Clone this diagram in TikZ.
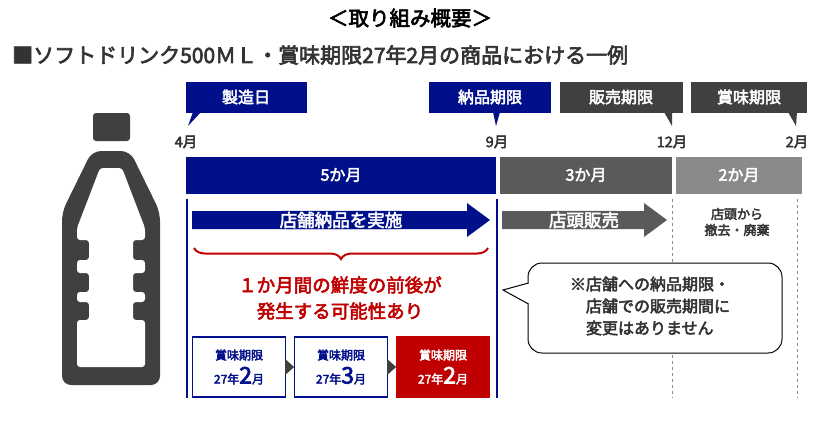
\documentclass[tikz,border=0pt]{standalone}
\usepackage{fontspec}
\setmainfont{Noto Sans CJK JP}[BoldFont={Noto Sans CJK JP},BoldFeatures={FakeBold=3}]
\usetikzlibrary{decorations.pathreplacing}
\definecolor{navy}{HTML}{000F8A}
\definecolor{dgray}{HTML}{404040}
\definecolor{mgray}{HTML}{5A5A5A}
\definecolor{lgray}{HTML}{8A8A8A}
\definecolor{bred}{HTML}{C00000}
\definecolor{txt}{HTML}{333333}
\tikzset{
  lab/.style={font=\bfseries\fontsize{16}{18}\selectfont, text=white, inner sep=0},
  arrlab/.style={font=\bfseries\fontsize{17.5}{19}\selectfont, text=white, inner sep=1pt, rounded corners=3pt},
  month/.style={font=\bfseries\fontsize{14.5}{16}\selectfont, text=txt, inner sep=0},
  smallbox/.style={draw=navy, line width=1.3pt, fill=white, minimum width=93pt, minimum height=60pt, inner sep=0, align=center, text=navy, font=\bfseries\fontsize{12}{24}\selectfont},
  dashln/.style={lgray, dashed, line width=1pt},
  solidln/.style={navy, line width=1.6pt},
}
\begin{document}
\begin{tikzpicture}[x=1pt,y=-1pt]
\useasboundingbox (0,0) rectangle (820,424);
\fill[white] (0,0) rectangle (820,424);
% titles
\node[font=\bfseries\fontsize{20.5}{22}\selectfont, text=black] (title) at (410,18) {＜取り組み概要＞};
\node[anchor=west, font=\bfseries\fontsize{21}{23}\selectfont, text=txt, inner sep=0] (sub) at (12,55) {■ソフトドリンク500ＭＬ・賞味期限27年2月の商品における一例};
% bottle
\fill[dgray, rounded corners=9pt] (92,151) -- (130,151) -- (160,212) -- (160,385) -- (62,385) -- (62,212) -- cycle;
\fill[white, rounded corners=3pt] (100,168) -- (122,168) -- (145,228) -- (145,240) -- (133,240) -- (133,260) -- (145,260) -- (145,273) -- (133,273) -- (133,292) -- (145,292) -- (145,302) -- (133,302) -- (133,320) -- (145,320) -- (145,367) -- (77,367) -- (77,320) -- (89,320) -- (89,302) -- (77,302) -- (77,292) -- (89,292) -- (89,273) -- (77,273) -- (77,260) -- (89,260) -- (89,240) -- (77,240) -- (77,228) -- cycle;
\fill[dgray, rounded corners=3pt] (93,113) rectangle (130,141);
% callout labels
\fill[navy] (186,82) rectangle (307,113);
\fill[navy] (193,112) -- (188,126) -- (201,112) -- cycle;
\node[lab] (mfg) at (246,97) {製造日};
\fill[navy] (429,82) rectangle (551,113);
\fill[navy] (493,112) -- (496,126) -- (500,112) -- cycle;
\node[lab] (dlv) at (490,97) {納品期限};
\fill[dgray] (560,82) rectangle (683,113);
\fill[dgray] (664,112) -- (672,126) -- (672,112) -- cycle;
\node[lab] (sell) at (621,97) {販売期限};
\fill[dgray] (691,82) rectangle (807,113);
\fill[dgray] (788,112) -- (796,126) -- (797,112) -- cycle;
\node[lab] (best) at (749,97) {賞味期限};
% months
\node[month] (m4) at (186,142) {4月};
\node[month] (m9) at (497,142) {9月};
\node[month] (m12) at (672,142) {12月};
\node[month] (m2) at (797,142) {2月};
% bars
\fill[navy] (186,157) rectangle (496,194);
\fill[mgray] (500,157) rectangle (672,194);
\fill[lgray] (676,157) rectangle (802,194);
\node[lab] (b5) at (341,175) {5か月};
\node[lab] (b3) at (586,175) {3か月};
\node[lab] (b2) at (739,175) {2か月};
% guide lines
\draw[solidln] (187,199) -- (187,398);
\draw[solidln] (497,199) -- (497,398);
\draw[dashln] (672,199) -- (672,398);
\draw[dashln] (797,199) -- (797,398);
% arrows
\fill[navy] (192,211) -- (467,211) -- (467,203) -- (490,220) -- (467,237) -- (467,229) -- (192,229) -- cycle;
\node[arrlab, fill=navy] (a1) at (341,220) {店舗納品を実施};
\fill[mgray] (502,211) -- (644,211) -- (644,203) -- (667,220) -- (644,237) -- (644,229) -- (502,229) -- cycle;
\node[arrlab, fill=mgray] (a2) at (584,220) {店頭販売};
\node[font=\bfseries\fontsize{13}{16}\selectfont, text=txt, align=center] (rm) at (737,222) {店頭から\\撤去・廃棄};
% brace
\draw[bred, line width=2pt, decorate, decoration={brace, mirror, amplitude=11pt}] (194,248) -- (488,248);
\node[font=\bfseries\fontsize{18.5}{26}\selectfont, text=bred, align=center] (warn) at (340,298) {１か月間の鮮度の前後が\\発生する可能性あり};
% small boxes
\node[smallbox] (s1) at (239,367) {賞味期限\\27年{\fontsize{23}{14}\selectfont 2}月};
\node[smallbox] (s2) at (341,367) {賞味期限\\27年{\fontsize{23}{14}\selectfont 3}月};
\node[smallbox, fill=bred, draw=bred, text=white] (s3) at (443,367) {賞味期限\\27年{\fontsize{23}{14}\selectfont 2}月};
\fill[dgray] (s1.east) ++(-1,-8) -- ++(9,8) -- ++(-9,8) -- cycle;
\fill[dgray] (s2.east) ++(-1,-8) -- ++(9,8) -- ++(-9,8) -- cycle;
% speech callout
\draw[fill=white, line width=1pt, rounded corners=14pt] (528,263) rectangle (782,353);
\fill[white] (529.5,283) -- (503,290) -- (529.5,304) -- cycle;
\draw[line width=1pt] (528.5,283) -- (503,290) -- (528.5,304);
\node[font=\bfseries\fontsize{16}{22}\selectfont, text=txt, align=left] (note) at (650,306) {※店舗への納品期限・\\\hspace*{16pt}店舗での販売期間に\\\hspace*{16pt}変更はありません};
\end{tikzpicture}
\end{document}
